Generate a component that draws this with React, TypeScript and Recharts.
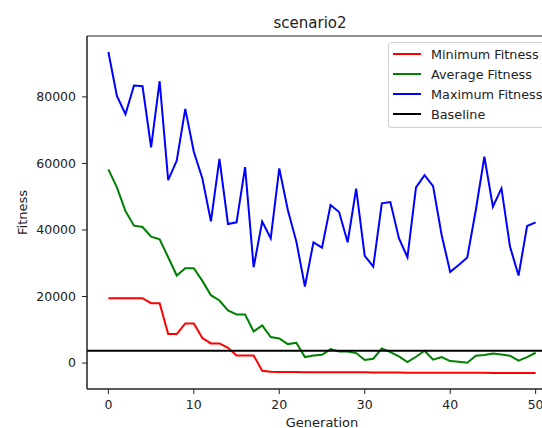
import { Label, Legend, Line, LineChart, ReferenceArea, ReferenceLine, XAxis, YAxis } from 'recharts'

const GENERATIONS = [
  0, 1, 2, 3, 4, 5, 6, 7, 8, 9, 10, 11, 12, 13, 14, 15, 16, 17, 18, 19, 20, 21, 22, 23, 24, 25,
  26, 27, 28, 29, 30, 31, 32, 33, 34, 35, 36, 37, 38, 39, 40, 41, 42, 43, 44, 45, 46, 47, 48, 49, 50,
]

const MIN_FITNESS = [
  19500, 19500, 19500, 19500, 19500, 18000, 18000, 8700, 8700, 11900, 11900, 7500, 5900, 5900, 4600,
  2300, 2300, 2300, -2300, -2600, -2700, -2700, -2700, -2750, -2750, -2800, -2800, -2800, -2800, -2800,
  -2800, -2850, -2850, -2850, -2850, -2900, -2900, -2900, -2900, -2950, -2950, -2950, -2950, -2950,
  -2950, -3000, -3000, -3000, -3000, -3000, -3000,
]

const AVG_FITNESS = [
  58200, 52800, 45700, 41300, 40900, 38000, 37200, 31800, 26300, 28500, 28500, 24700, 20400, 18800,
  15800, 14600, 14600, 9500, 11300, 7800, 7400, 5700, 6100, 1800, 2300, 2500, 4200, 3500, 3500, 3000,
  900, 1300, 4400, 3300, 2000, 300, 1900, 3700, 1000, 1800, 600, 400, 100, 2200, 2400, 2900, 2600,
  2200, 700, 1800, 3100,
]

const MAX_FITNESS = [
  93500, 80300, 74800, 83400, 83200, 64800, 84700, 55000, 60800, 76400, 63500, 55500, 42600, 61400,
  41800, 42300, 58900, 28800, 42500, 37500, 58500, 46000, 36500, 23000, 36300, 34700, 47500, 45400,
  36300, 52400, 32200, 29000, 48000, 48400, 37500, 31800, 52800, 56500, 53200, 38500, 27400, 29500,
  31700, 46000, 62000, 47000, 52500, 35000, 26300, 41200, 42300,
]

const BASELINE = 3700

const X_TICKS = [0, 10, 20, 30, 40, 50]
const Y_TICKS = [0, 20000, 40000, 60000, 80000]

const SERIES = [
  { key: 'min', name: 'Minimum Fitness', color: '#ff0000' },
  { key: 'avg', name: 'Average Fitness', color: '#008000' },
  { key: 'max', name: 'Maximum Fitness', color: '#0000ff' },
]

const data = GENERATIONS.map((g, i) => ({
  gen: g,
  min: MIN_FITNESS[i],
  avg: AVG_FITNESS[i],
  max: MAX_FITNESS[i],
}))

const FONT = '"DejaVu Sans", sans-serif'
const tick = { fontSize: 12.5, fill: '#222', fontFamily: FONT }

const legendItems = [...SERIES.map((s) => ({ name: s.name, color: s.color })), { name: 'Baseline', color: '#000' }]

function LegendBox() {
  return (
    <div
      style={{
        width: 162,
        border: '1px solid #d0d0d0',
        borderRadius: 3,
        background: 'rgba(255,255,255,0.85)',
        padding: '1px 0 3px 4px',
        fontFamily: FONT,
        fontSize: 12.8,
        color: '#222',
        boxSizing: 'border-box',
      }}
    >
      {legendItems.map((it) => (
        <div key={it.name} style={{ display: 'flex', alignItems: 'center', height: 20 }}>
          <span style={{ display: 'inline-block', width: 28, height: 2, background: it.color, flex: 'none' }} />
          <span style={{ marginLeft: 10, whiteSpace: 'nowrap' }}>{it.name}</span>
        </div>
      ))}
    </div>
  )
}

export default function App() {
  return (
    <div
      style={{
        position: 'absolute',
        left: 0,
        top: 0,
        width: 542,
        height: 428,
        overflow: 'hidden',
        background: '#fff',
      }}
    >
      <div
        style={{
          position: 'absolute',
          left: 210,
          top: 14,
          width: 200,
          textAlign: 'center',
          fontFamily: FONT,
          fontSize: 15,
          lineHeight: '18px',
          color: '#222',
        }}
      >
        scenario2
      </div>
      <LineChart width={580} height={428} data={data} margin={{ top: 36, right: 23, bottom: 0, left: 0 }}>
        <XAxis
          dataKey="gen"
          type="number"
          domain={[-2.5, 52.5]}
          ticks={X_TICKS}
          allowDataOverflow
          height={39}
          tick={tick}
          tickSize={5}
          tickMargin={6}
          stroke="#222"
        >
          <Label
            content={({ viewBox }: any) =>
              viewBox ? (
                <text
                  x={viewBox.x + viewBox.width / 2}
                  y={viewBox.y + 37.5}
                  textAnchor="middle"
                  fontSize={13}
                  fontFamily={FONT}
                  fill="#222"
                >
                  Generation
                </text>
              ) : null
            }
          />
        </XAxis>
        <YAxis
          type="number"
          domain={[-7800, 98300]}
          ticks={Y_TICKS}
          allowDataOverflow
          width={87}
          tick={tick}
          tickSize={5}
          tickMargin={6}
          stroke="#222"
        >
          <Label
            content={({ viewBox }: any) => {
              if (!viewBox) return null
              const x = viewBox.x + 27
              const y = viewBox.y + viewBox.height / 2
              return (
                <text
                  x={x}
                  y={y}
                  transform={`rotate(-90 ${x} ${y})`}
                  textAnchor="middle"
                  fontSize={13}
                  fontFamily={FONT}
                  fill="#222"
                >
                  Fitness
                </text>
              )
            }}
          />
        </YAxis>
        <ReferenceArea x1={-2.5} x2={52.5} y1={-7800} y2={98300} fill="none" stroke="#222" strokeWidth={1} />
        {SERIES.map((s) => (
          <Line
            key={s.key}
            dataKey={s.key}
            name={s.name}
            stroke={s.color}
            strokeWidth={2}
            dot={false}
            activeDot={false}
            type="linear"
            isAnimationActive={false}
          />
        ))}
        <ReferenceLine y={BASELINE} stroke="#000" strokeWidth={2} />
        <Legend
          layout="vertical"
          align="center"
          verticalAlign="middle"
          content={() => <LegendBox />}
          wrapperStyle={{ left: 388, top: 42, width: 162 }}
        />
      </LineChart>
    </div>
  )
}
